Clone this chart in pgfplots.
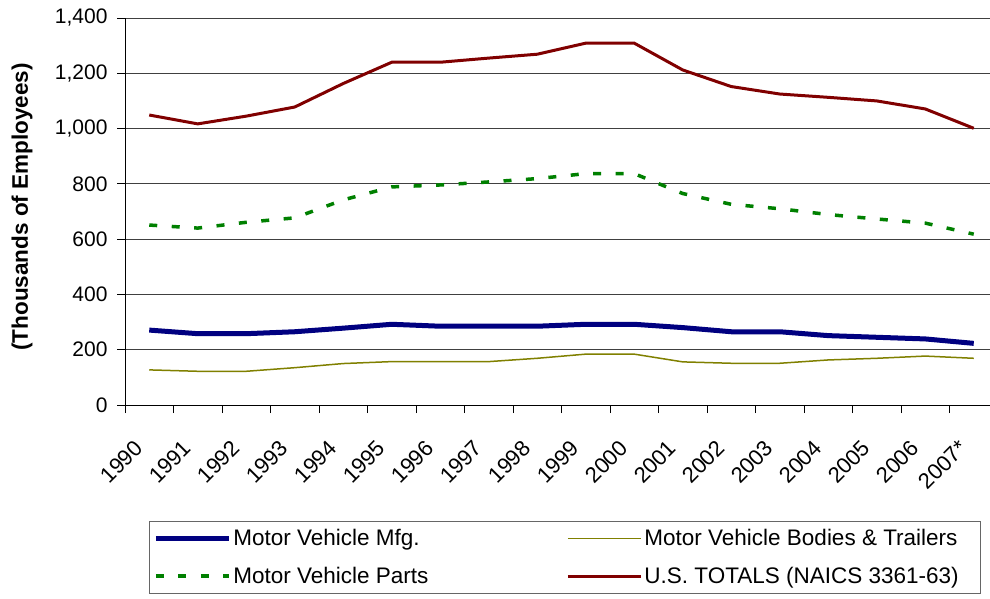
\documentclass[border=0pt]{standalone}
\usepackage{fontspec}
\setmainfont{Liberation Sans}
\usepackage{pgfplots}
\pgfplotsset{compat=1.18}
\definecolor{cnavy}{HTML}{000080}
\definecolor{cred}{HTML}{800000}
\definecolor{cgreen}{HTML}{008000}
\definecolor{colive}{HTML}{808000}
\begin{document}
\begin{tikzpicture}
\begin{axis}[
 name=ax,
 scale only axis, width=865pt, height=387pt,
 xmin=-0.5, xmax=17.335, ymin=0, ymax=1400,
 axis lines*=left, axis line style={black, line width=0.8pt, -},
 ytick={0,200,...,1400}, ymajorgrids, grid style={black!75, line width=0.8pt},
 xtick={0,...,17},
 xticklabels={1990,1991,1992,1993,1994,1995,1996,1997,1998,1999,2000,2001,2002,2003,2004,2005,2006,2007*},
 minor xtick={-0.5,0.5,...,16.5},
 tick align=outside, major tick length=8pt, minor tick length=8pt,
 major x tick style={draw=none},
 tick style={black, line width=0.8pt},
 ticklabel style={font=\fontsize{21}{25}\selectfont},
 /pgf/number format/assume math mode=true,
 /pgf/number format/1000 sep={,},
 yticklabel style={xshift=-6pt},
 xticklabel style={font=\fontsize{22}{26}\selectfont, xshift=-16pt, yshift=-21pt, rotate=45, anchor=north east},
 ylabel={(Thousands of Employees)},
 ylabel style={font=\fontsize{22.5}{27}\selectfont\bfseries, at={(axis description cs:-0.119,0.512)}, anchor=center},
 legend style={at={(axis description cs:0.0277,-0.300)}, anchor=north west, draw=black!60, line width=0.8pt, font=\fontsize{22.5}{27}\selectfont, legend columns=2, /tikz/every even column/.append style={column sep=136pt}, inner xsep=4pt, inner ysep=6pt, row sep=16pt},
 legend cell align=left,
 legend image code/.code={\draw[#1] (0pt,0pt) -- (73pt,0pt);},
]
\addplot[cnavy, line width=5pt] coordinates {(0,271)(1,258)(2,258)(3,265)(4,278)(5,292)(6,285)(7,285)(8,285)(9,292)(10,292)(11,280)(12,265)(13,265)(14,251)(15,245)(16,239)(17,223)};
\addlegendentry{Motor Vehicle Mfg.}
\addplot[colive, line width=1.5pt] coordinates {(0,127)(1,122)(2,122)(3,135)(4,150)(5,157)(6,157)(7,157)(8,169)(9,184)(10,184)(11,156)(12,151)(13,151)(14,163)(15,169)(16,177)(17,169)};
\addlegendentry{Motor Vehicle Bodies \& Trailers\hspace*{16pt}}
\addplot[cgreen, line width=3.5pt, dash pattern=on 8pt off 14.5pt] coordinates {(0,651)(1,640)(2,661)(3,677)(4,742)(5,789)(6,796)(7,807)(8,819)(9,837)(10,837)(11,765)(12,726)(13,710)(14,689)(15,673)(16,658)(17,618)};
\addlegendentry{Motor Vehicle Parts}
\addplot[cred, line width=3pt] coordinates {(0,1049)(1,1017)(2,1045)(3,1078)(4,1163)(5,1240)(6,1240)(7,1255)(8,1269)(9,1309)(10,1309)(11,1212)(12,1152)(13,1125)(14,1113)(15,1100)(16,1071)(17,1001)};
\addlegendentry{U.S. TOTALS (NAICS 3361-63)\hspace*{16pt}}
\end{axis}
\pgfresetboundingbox
\path ([shift={(-125pt,-193pt)}]ax.south west) rectangle ([shift={(0pt,18pt)}]ax.north east);
\end{tikzpicture}
\end{document}
